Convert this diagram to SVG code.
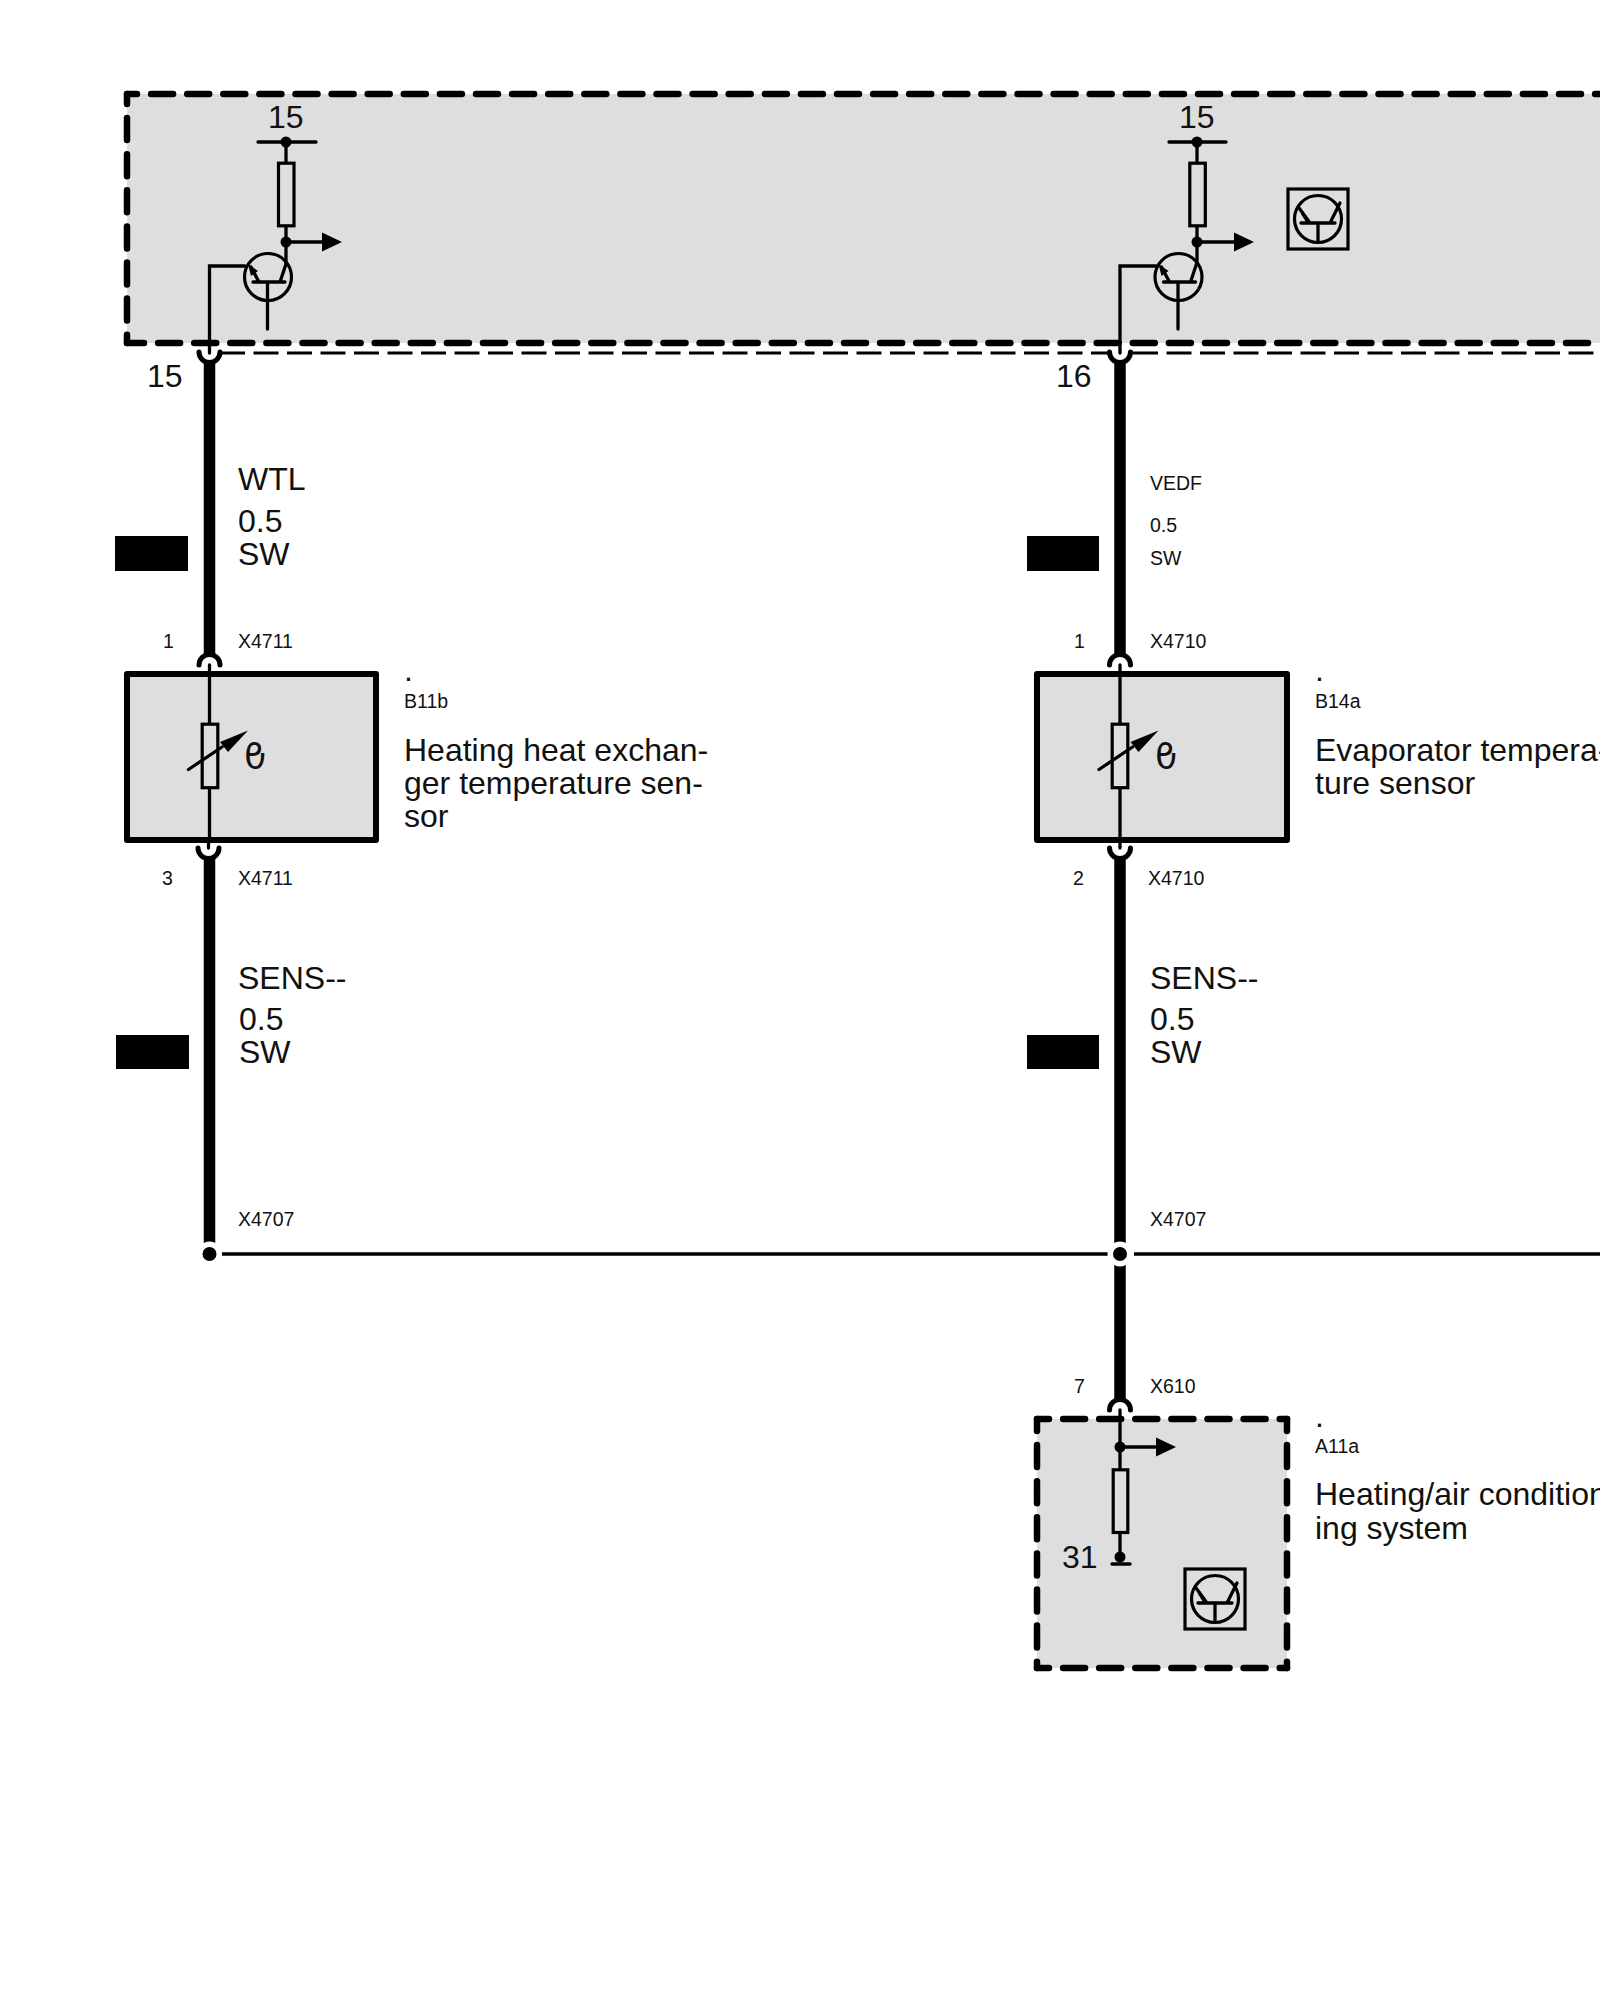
<svg xmlns="http://www.w3.org/2000/svg" xmlns:xlink="http://www.w3.org/1999/xlink" width="1600" height="2000" viewBox="0 0 1600 2000">
<style>
text{font-family:"Liberation Sans",Arial,sans-serif;fill:#111}
.b{font-size:32px}.s{font-size:19.500px}
.f{fill:#dedede;stroke:none}
.t{fill:none;stroke:#000;stroke-width:3.300;stroke-linecap:round}
.r{fill:none;stroke:#000;stroke-width:3.200}
.w{fill:none;stroke:#000;stroke-width:11.500}
.h{fill:none;stroke:#000;stroke-width:5;stroke-linecap:round}
.fr{fill:none;stroke:#000;stroke-width:6.500;stroke-linecap:round;stroke-dasharray:22 14.100}
.k{fill:#000;stroke:none}
.th{font-size:36px;font-family:"DejaVu Sans",sans-serif}
</style>
<defs>
<g id="tr">
<circle cx="0" cy="0" r="23.500" class="r"/>
<path class="t" d="M-15 5H17M-0.500 5V52M12 5L18 -13M-9 5L-17 -10"/>
<path class="k" d="M-20 -13L-10 -6L-17 -1Z"/>
</g>
<g id="icon">
<rect x="-30" y="-30" width="60" height="60" fill="none" stroke="#000" stroke-width="3.200"/>
<circle cx="0" cy="0" r="23.500" class="r"/>
<path class="t" d="M-17 4H17M0 4V23M12 4L22 -16M-8 4L-19 -11"/>
<path class="k" d="M-15 -8L-7 4L-12 3L-17 -5Z"/>
</g>
<path id="ar" class="k" d="M-20 -9.500L0 0L-20 9.500Z"/>
</defs>

<g id="control-unit-top">
<rect class="f" x="127" y="94" width="1473" height="249"/>
<path class="fr" stroke-dashoffset="12" d="M127 94H1600"/>
<path class="fr" stroke-dashoffset="12" d="M127 94V343"/>
<path class="fr" stroke-dashoffset="5" d="M127 343H1600"/>
<path d="M220 353H1108M1133 353H1600" fill="none" stroke="#000" stroke-width="2.800" stroke-dasharray="25 8.500"/>
<text class="b" x="268" y="128">15</text>
<path class="t" d="M258 142H316M286 142V162M286 227V264M286 242H325"/>
<rect class="r" x="278.500" y="163.200" width="15.500" height="62.600"/>
<circle cx="286" cy="142" r="5.500"/>
<circle cx="286" cy="242" r="5.500"/>
<use xlink:href="#ar" href="#ar" x="342" y="242"/>
<use xlink:href="#tr" href="#tr" x="268" y="277"/>
<path class="t" d="M209.500 353V266H245"/>
<text class="b" x="1179" y="128">15</text>
<path class="t" d="M1169 142H1226M1197 142V162M1197 227V264M1197 242H1236"/>
<rect class="r" x="1189.800" y="163.200" width="15.500" height="62.600"/>
<circle cx="1197" cy="142" r="5.500"/>
<circle cx="1197" cy="242" r="5.500"/>
<use xlink:href="#ar" href="#ar" x="1254" y="242"/>
<use xlink:href="#tr" href="#tr" x="1178.500" y="277"/>
<path class="t" d="M1120 353V266H1156"/>
<use xlink:href="#icon" href="#icon" x="1318" y="219"/>
</g>

<g id="connectors">
<path class="w" d="M209.500 360V656M209.500 857V1254M1120 360V656M1120 857V1401"/>
<path class="h" d="M199 352A10.500 10.500 0 0 0 220 352M1109.500 352A10.500 10.500 0 0 0 1130.500 352"/>
<path class="h" d="M199 665A10.500 10.500 0 0 1 220 665M1109.500 665A10.500 10.500 0 0 1 1130.500 665"/>
<path class="h" d="M198 848A10.500 10.500 0 0 0 219 848M1109.500 848A10.500 10.500 0 0 0 1130.500 848"/>
<path class="h" d="M1109.500 1410A10.500 10.500 0 0 1 1130.500 1410"/>
<path fill="none" stroke="#000" stroke-width="3.300" d="M222 1254H1108M1134 1254H1600"/>
<circle cx="209.500" cy="1254" r="12.500" fill="#fff"/>
<circle cx="209.500" cy="1254" r="7"/>
<circle cx="1120" cy="1254" r="12.500" fill="#fff"/>
<circle cx="1120" cy="1254" r="7"/>
<rect class="k" x="115" y="536" width="73" height="35"/>
<rect class="k" x="1027" y="536" width="72" height="35"/>
<rect class="k" x="116" y="1035" width="73" height="34"/>
<rect class="k" x="1027" y="1035" width="72" height="34"/>
</g>

<g id="wire-labels">
<text class="b" x="147" y="387">15</text>
<text class="b" x="1056" y="387">16</text>
<text class="b" x="238" y="490">WTL</text>
<text class="b" x="238" y="532">0.5</text>
<text class="b" x="238" y="565">SW</text>
<text class="s" x="1150" y="490">VEDF</text>
<text class="s" x="1150" y="532">0.5</text>
<text class="s" x="1150" y="565">SW</text>
<text class="s" x="163" y="648">1</text>
<text class="s" x="238" y="648">X4711</text>
<text class="s" x="1074" y="648">1</text>
<text class="s" x="1150" y="648">X4710</text>
<text class="s" x="162" y="885">3</text>
<text class="s" x="238" y="885">X4711</text>
<text class="s" x="1073" y="885">2</text>
<text class="s" x="1148" y="885">X4710</text>
<text class="b" x="238" y="989">SENS--</text>
<text class="b" x="239" y="1030">0.5</text>
<text class="b" x="239" y="1063">SW</text>
<text class="b" x="1150" y="989">SENS--</text>
<text class="b" x="1150" y="1030">0.5</text>
<text class="b" x="1150" y="1063">SW</text>
<text class="s" x="238" y="1226">X4707</text>
<text class="s" x="1150" y="1226">X4707</text>
<text class="s" x="1074" y="1393">7</text>
<text class="s" x="1150" y="1393">X610</text>
</g>

<g id="B11b">
<rect x="127" y="674" width="249" height="166" fill="#dedede" stroke="#000" stroke-width="6" stroke-linejoin="round"/>
<path class="t" d="M209.500 665V723M209.500 789V840M208.500 840V848"/>
<rect class="r" x="202.200" y="724.200" width="15.600" height="63.500" fill="#dedede"/>
<path class="t" d="M188.500 769.500L222 747"/>
<path class="k" d="M248 730.500L228 752L220 742Z"/>
<text class="th" transform="translate(255 769) scale(-1 1)" text-anchor="middle">ϑ</text>
<text class="b" x="404" y="681">.</text>
<text class="s" x="404" y="708">B11b</text>
<text class="b" x="404" y="761">Heating heat exchan-</text>
<text class="b" x="404" y="794">ger temperature sen-</text>
<text class="b" x="404" y="827">sor</text>
</g>

<g id="B14a">
<rect x="1037" y="674" width="250" height="166" fill="#dedede" stroke="#000" stroke-width="6" stroke-linejoin="round"/>
<path class="t" d="M1120 665V723M1120 789V848"/>
<rect class="r" x="1112.200" y="724.200" width="15.600" height="63.500" fill="#dedede"/>
<path class="t" d="M1099 769.500L1132.500 747"/>
<path class="k" d="M1158.500 730.500L1138.500 752L1130.500 742Z"/>
<text class="th" transform="translate(1166 769) scale(-1 1)" text-anchor="middle">ϑ</text>
<text class="b" x="1315" y="681">.</text>
<text class="s" x="1315" y="708">B14a</text>
<text class="b" x="1315" y="761">Evaporator tempera-</text>
<text class="b" x="1315" y="794">ture sensor</text>
</g>

<g id="A11a">
<rect class="f" x="1037" y="1419" width="250" height="249"/>
<path class="fr" stroke-dashoffset="10" d="M1037 1419H1287"/>
<path class="fr" stroke-dashoffset="10" d="M1037 1419V1668"/>
<path class="fr" stroke-dashoffset="10" d="M1287 1419V1668"/>
<path class="fr" stroke-dashoffset="10" d="M1037 1668H1287"/>
<path class="t" d="M1120 1410V1468M1120 1534V1558M1120 1447H1160"/>
<rect class="r" x="1113.200" y="1469.800" width="14.600" height="62.700"/>
<circle cx="1120" cy="1447" r="5.500"/>
<use xlink:href="#ar" href="#ar" x="1176" y="1447"/>
<circle cx="1120" cy="1557" r="5.500"/>
<path class="t" d="M1112 1564H1130"/>
<text class="b" x="1062" y="1568">31</text>
<use xlink:href="#icon" href="#icon" x="1215" y="1599"/>
<text class="b" x="1315" y="1427">.</text>
<text class="s" x="1315" y="1453">A11a</text>
<text class="b" x="1315" y="1505">Heating/air condition</text>
<text class="b" x="1315" y="1539">ing system</text>
</g>
</svg>
